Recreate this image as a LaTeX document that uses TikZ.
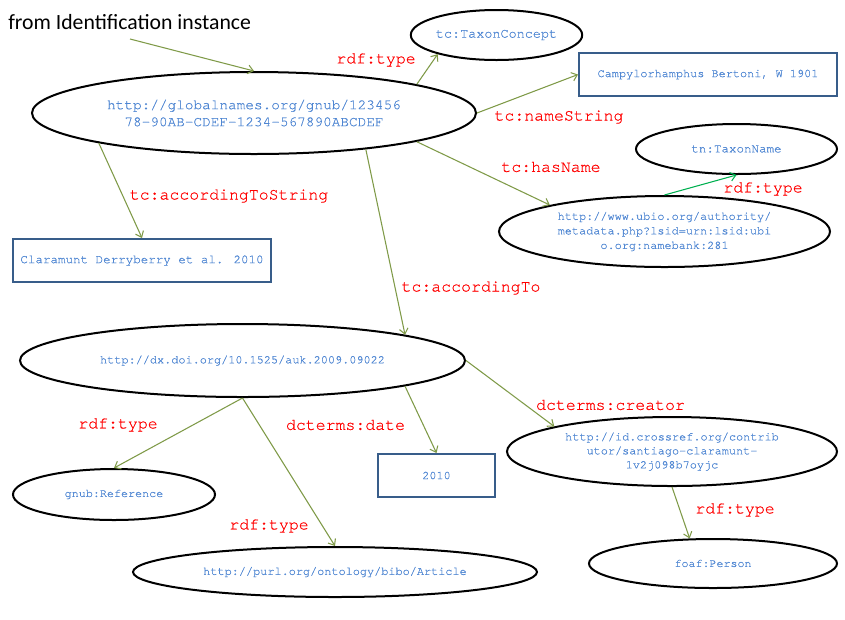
\documentclass[tikz,border=0pt]{standalone}
\usepackage{fontspec}
\setmainfont{Carlito}
\IfFontExistsTF{TeX Gyre Cursor}{\newfontfamily\mono[FakeBold=0.45]{TeX Gyre Cursor}}{\newfontfamily\mono{Liberation Mono}}
\usetikzlibrary{shapes.geometric,arrows.meta}
\definecolor{txtblue}{HTML}{4F86D2}
\definecolor{boxblue}{HTML}{385D8A}
\definecolor{arrowolive}{HTML}{7F9A48}
\definecolor{arrowgreen}{HTML}{00B050}
\begin{document}
\begin{tikzpicture}[x=0.75pt,y=-0.75pt,
  ell/.style={draw=black,line width=1.5pt,ellipse,inner sep=0pt,align=center,text=txtblue},
  boxnode/.style={draw=boxblue,line width=1.5pt,rectangle,inner sep=0pt,align=center,text=txtblue},
  lbl/.style={text=red,font=\mono\fontsize{12.4}{14}\selectfont,inner sep=0pt},
  conn/.style={draw=arrowolive,line width=0.8pt,-{Straight Barb[length=4pt,width=6.5pt]}},
  gconn/.style={draw=arrowgreen,line width=0.8pt,-{Straight Barb[length=4pt,width=6.5pt]}}]
\useasboundingbox (0,0) rectangle (845,619);

% title
\node[anchor=base west,inner sep=0pt,font=\fontsize{16.3}{19}\selectfont] (title) at (8,29) {from Identification instance};
\coordinate (src) at (130,39);

% nodes
\node[ell,minimum width=333pt,minimum height=61.5pt,font=\mono\fontsize{10.8}{12.75}\selectfont] (main) at (254,113)
  {http://globalnames.org/gnub/123456\\78-90AB-CDEF-1234-567890ABCDEF};
\node[ell,minimum width=123.75pt,minimum height=37.5pt,font=\mono\fontsize{10.1}{12}\selectfont] (tc) at (496.5,35) {tc:TaxonConcept};
\node[boxnode,minimum width=193.5pt,minimum height=32.25pt,font=\mono\fontsize{8.9}{11}\selectfont] (campy) at (708,74.5) {Campylorhamphus Bertoni, W 1901};
\node[ell,minimum width=150.75pt,minimum height=37.5pt,font=\mono\fontsize{9.4}{11}\selectfont] (tn) at (736.5,149) {tn:TaxonName};
\node[ell,minimum width=248.25pt,minimum height=53.25pt,font=\mono\fontsize{8.9}{10.9}\selectfont] (ubio) at (664.5,231.5)
  {http://www.ubio.org/authority/\\metadata.php?lsid=urn:lsid:ubi\\o.org:namebank:281};
\node[boxnode,minimum width=193.5pt,minimum height=32.25pt,font=\mono\fontsize{9.4}{11}\selectfont] (clara) at (142,260.5) {Claramunt Derryberry et al. 2010};
\node[ell,minimum width=333.75pt,minimum height=54.75pt,font=\mono\fontsize{8.9}{11}\selectfont] (doi) at (242.5,360.5) {http://dx.doi.org/10.1525/auk.2009.09022};
\node[ell,minimum width=151.5pt,minimum height=38.25pt,font=\mono\fontsize{8.8}{11}\selectfont] (gnubref) at (114,494.5) {gnub:Reference};
\node[boxnode,minimum width=87.75pt,minimum height=32.25pt,font=\mono\fontsize{8.9}{11}\selectfont] (year) at (436.5,475.5) {2010};
\node[ell,minimum width=247.5pt,minimum height=51.75pt,font=\mono\fontsize{8.9}{10.5}\selectfont] (cross) at (672,451.5)
  {http://id.crossref.org/contrib\\utor/santiago-claramunt-\\1v2j098b7oyjc};
\node[ell,minimum width=303pt,minimum height=37.5pt,font=\mono\fontsize{8.9}{11}\selectfont] (bibo) at (335,572) {http://purl.org/ontology/bibo/Article};
\node[ell,minimum width=186pt,minimum height=36.75pt,font=\mono\fontsize{8.75}{11}\selectfont] (foaf) at (713,563.5) {foaf:Person};

% labels
\node[lbl] (l1) at (376,60) {rdf:type};
\node[lbl] (l2) at (559,117) {tc:nameString};
\node[lbl] (l3) at (551,167) {tc:hasName};
\node[lbl] (l4) at (763,189) {rdf:type};
\node[lbl] (l5) at (229,196) {tc:accordingToString};
\node[lbl] (l6) at (471,288) {tc:accordingTo};
\node[lbl] (l7) at (118,425) {rdf:type};
\node[lbl] (l8) at (345.5,425) {dcterms:date};
\node[lbl] (l9) at (610.5,405) {dcterms:creator};
\node[lbl] (l10) at (269,526) {rdf:type};
\node[lbl] (l11) at (735,510) {rdf:type};

% connectors
\draw[conn] (src) -- (main.north);
\draw[conn] (main.10.75) -- (tc.-162.3);
\draw[conn] (main.east) -- (campy.west);
\draw[conn] (main.-10.4) -- (ubio.167.8);
\draw[conn] (main.-169.1) -- (clara.north);
\draw[conn] (main.-18.1) -- (doi.9.6);
\draw[gconn] (ubio.north) -- (tn.south);
\draw[conn] (doi.south) -- (gnubref.north);
\draw[conn] (doi.south) -- (bibo.north);
\draw[conn] (doi.-9.55) -- (year.north);
\draw[conn] (doi.east) -- (cross.168.2);
\draw[conn] (cross.south) -- (foaf.133);
\end{tikzpicture}
\end{document}
